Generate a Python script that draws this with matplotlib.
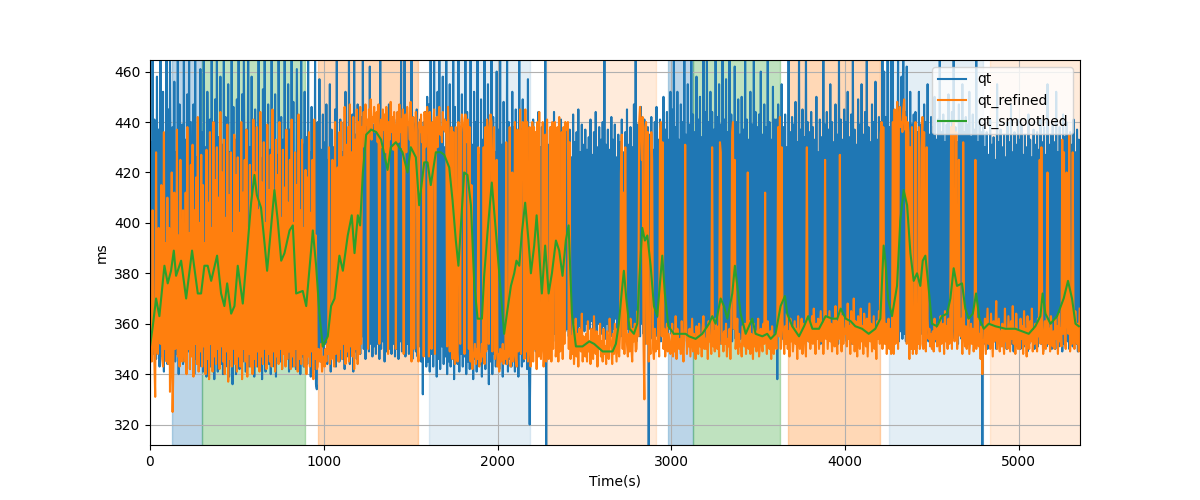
import matplotlib
matplotlib.use("Agg")
import matplotlib.pyplot as plt
import numpy as np

# sample step of the raw series (s)
STEP = 5

# raw QT (ms), one row = 100 s
qt = [
    345, 432, 352, 470, 348, 441, 398, 346, 458, 350, 437, 343, 468, 412, 347, 452, 341, 429, 349, 466,
    344, 445, 346, 470, 405, 342, 438, 350, 456, 345, 428, 348, 472, 340, 447, 420, 352, 439, 344, 466,
    347, 433, 343, 451, 349, 468, 342, 440, 395, 355, 447, 340, 470, 346, 426, 351, 438, 343, 461, 348,
    436, 341, 469, 350, 430, 339, 452, 410, 346, 441, 343, 470, 350, 427, 338, 449, 345, 466, 341, 434,
    349, 458, 344, 431, 340, 470, 347, 442, 400, 343, 455, 339, 428, 351, 468, 336, 446, 345, 433, 340,
    449, 355, 470, 342, 428, 348, 451, 345, 466, 405, 341, 437, 350, 472, 343, 430, 347, 458, 352, 425,
    339, 445, 346, 432, 343, 470, 350, 426, 410, 338, 453, 345, 468, 341, 436, 349, 447, 344, 429, 340,
    466, 347, 438, 343, 451, 339, 427, 351, 470, 415, 345, 442, 342, 433, 348, 468, 344, 430, 350, 455,
    341, 437, 346, 470, 343, 448, 349, 426, 342, 461, 405, 351, 439, 340, 472, 347, 431, 343, 452, 348,
    434, 344, 468, 350, 428, 339, 446, 347, 435, 342, 466, 336, 334, 440, 348, 457, 345, 429, 351, 443,
    346, 432, 352, 447, 344, 425, 349, 455, 341, 437, 356, 430, 347, 445, 343, 468, 350, 433, 345, 441,
    352, 428, 346, 440, 342, 452, 350, 431, 347, 466, 344, 429, 353, 443, 341, 470, 349, 435, 346, 447,
    352, 436, 348, 442, 355, 466, 350, 438, 346, 440, 353, 437, 349, 462, 352, 441, 347, 439, 351, 443,
    348, 437, 352, 444, 346, 468, 350, 440, 353, 440, 345, 442, 349, 438, 351, 447, 350, 436, 348, 440,
    352, 441, 347, 438, 350, 444, 346, 439, 353, 466, 349, 437, 351, 470, 347, 443, 352, 440, 348, 436,
    350, 468, 346, 442, 353, 439, 349, 445, 347, 438, 351, 441, 345, 437, 332, 440, 348, 444, 343, 450,
    345, 447, 341, 470, 348, 433, 343, 466, 350, 428, 339, 452, 346, 470, 342, 437, 351, 458, 344, 430,
    347, 468, 340, 441, 345, 455, 343, 429, 349, 470, 338, 446, 346, 432, 344, 466, 341, 438, 348, 451,
    343, 429, 347, 470, 340, 444, 345, 436, 342, 468, 349, 431, 338, 452, 346, 440, 341, 470, 348, 427,
    344, 449, 339, 433, 347, 468, 342, 438, 350, 455, 336, 430, 345, 466, 340, 442, 348, 428, 343, 460,
    345, 437, 342, 466, 350, 431, 339, 448, 347, 429, 344, 470, 341, 440, 346, 433, 343, 452, 349, 438,
    341, 445, 346, 431, 339, 466, 348, 437, 343, 449, 345, 428, 350, 440, 342, 457, 347, 320, 352, 433,
    347, 441, 355, 429, 349, 436, 352, 444, 356, 430, 350, 438, 353, 426, 348, 470, 300, 437, 356, 431,
    352, 438, 358, 430, 353, 444, 356, 427, 360, 436, 355, 431, 358, 441, 354, 428, 361, 434, 357, 439,
    358, 430, 355, 437, 360, 426, 354, 443, 357, 432, 361, 436, 355, 445, 359, 428, 356, 439, 362, 431,
    357, 437, 360, 429, 355, 434, 358, 441, 361, 427, 354, 436, 359, 444, 356, 430, 360, 438, 357, 433,
    356, 440, 359, 468, 354, 431, 360, 437, 357, 429, 361, 442, 355, 433, 358, 439, 362, 426, 356, 435,
    359, 432, 355, 441, 360, 428, 357, 436, 353, 445, 358, 431, 356, 438, 361, 430, 354, 447, 359, 466,
    353, 439, 358, 432, 355, 446, 360, 435, 356, 441, 352, 430, 357, 438, 300, 435, 354, 442, 359, 429,
    352, 440, 358, 446, 355, 433, 357, 441, 353, 431, 359, 450, 354, 437, 356, 444, 352, 433, 358, 452,
    356, 445, 353, 468, 358, 438, 355, 452, 357, 433, 352, 447, 359, 440, 354, 466, 357, 435, 353, 455,
    355, 439, 358, 470, 352, 443, 356, 436, 354, 458, 357, 441, 353, 450, 355, 434, 358, 468, 352, 444,
    355, 468, 352, 440, 357, 452, 354, 444, 358, 437, 353, 470, 356, 442, 355, 455, 352, 439, 358, 466,
    354, 441, 356, 457, 352, 436, 357, 468, 355, 443, 353, 438, 358, 462, 354, 440, 356, 449, 352, 435,
    354, 450, 357, 437, 352, 466, 356, 441, 353, 433, 358, 452, 355, 439, 351, 470, 356, 444, 354, 438,
    357, 443, 353, 460, 356, 435, 354, 447, 358, 438, 352, 468, 355, 440, 357, 433, 353, 454, 356, 441,
    353, 441, 338, 447, 356, 433, 358, 455, 354, 438, 357, 443, 352, 430, 356, 466, 355, 436, 358, 442,
    354, 439, 357, 448, 353, 432, 356, 468, 355, 437, 352, 445, 357, 434, 354, 470, 356, 440, 353, 436,
    355, 444, 358, 438, 353, 433, 356, 450, 354, 428, 357, 441, 352, 434, 356, 468, 355, 439, 358, 444,
    354, 437, 357, 455, 353, 440, 356, 432, 355, 447, 358, 435, 352, 466, 356, 441, 354, 433, 357, 445,
    356, 440, 353, 452, 357, 434, 355, 443, 352, 466, 356, 437, 354, 431, 358, 449, 353, 439, 356, 455,
    354, 435, 357, 444, 353, 470, 356, 438, 355, 432, 358, 447, 352, 440, 356, 456, 354, 433, 357, 442,
    354, 440, 356, 470, 352, 460, 355, 442, 357, 472, 353, 438, 356, 468, 354, 466, 352, 441, 357, 437,
    355, 470, 353, 440, 357, 458, 354, 468, 356, 444, 353, 462, 357, 437, 354, 452, 352, 439, 356, 443,
    355, 444, 353, 436, 358, 452, 354, 439, 356, 433, 352, 447, 357, 440, 355, 455, 353, 435, 356, 442,
    354, 438, 357, 450, 353, 433, 356, 441, 352, 466, 355, 436, 358, 443, 354, 432, 356, 439, 353, 451,
    356, 435, 353, 444, 357, 466, 354, 438, 358, 432, 352, 447, 356, 440, 354, 455, 357, 436, 353, 442,
    355, 439, 352, 452, 356, 434, 354, 443, 357, 437, 353, 466, 355, 432, 356, 441, 352, 436, 300, 438,
    352, 430, 355, 436, 350, 427, 354, 441, 351, 431, 356, 434, 353, 425, 350, 455, 354, 432, 352, 437,
    355, 430, 351, 435, 354, 426, 350, 440, 353, 432, 356, 447, 352, 428, 349, 436, 354, 431, 351, 441,
    353, 433, 350, 439, 354, 427, 351, 435, 355, 430, 349, 443, 352, 433, 356, 426, 353, 437, 350, 431,
    354, 436, 351, 429, 355, 441, 352, 432, 349, 438, 354, 427, 351, 455, 353, 431, 356, 435, 350, 439,
    353, 432, 350, 452, 354, 428, 351, 438, 355, 430, 349, 443, 352, 434, 356, 440, 353, 428, 350, 436,
    354, 431, 351, 441, 355, 428, 352, 437, 349, 433, 355,
]

# refined QT (ms), one row = 100 s
qt_refined = [
    350, 362, 345, 405, 360, 345, 331, 428, 352, 348, 398, 355, 352, 415, 346, 343, 436, 350, 392, 345,
    410, 344, 398, 333, 346, 420, 325, 345, 412, 350, 352, 437, 347, 395, 343, 425, 348, 345, 405, 352,
    345, 412, 340, 438, 350, 396, 342, 423, 347, 431, 339, 405, 352, 418, 344, 442, 341, 400, 349, 427,
    343, 415, 351, 392, 340, 429, 346, 408, 338, 436, 352, 398, 341, 440, 347, 417, 344, 430, 350, 410,
    342, 444, 351, 420, 345, 433, 340, 402, 349, 439, 337, 411, 346, 428, 343, 396, 350, 435, 344, 419,
    341, 426, 347, 404, 343, 440, 338, 412, 350, 425, 345, 437, 339, 398, 348, 423, 343, 409, 340, 441,
    346, 420, 343, 438, 349, 405, 341, 444, 347, 416, 344, 432, 350, 400, 342, 439, 348, 413, 345, 427,
    343, 445, 349, 410, 341, 433, 347, 419, 344, 440, 350, 402, 342, 429, 348, 414, 343, 437, 346, 408,
    349, 425, 342, 441, 347, 400, 343, 428, 350, 415, 341, 443, 346, 405, 344, 433, 348, 398, 343, 421,
    340, 418, 347, 436, 343, 404, 349, 425, 338, 441, 346, 395, 342, 343, 350, 348, 345, 352, 341, 345,
    347, 343, 350, 345, 352, 348, 430, 344, 349, 346, 425, 350, 343, 440, 348, 352, 422, 345, 436, 350,
    440, 346, 426, 352, 446, 344, 431, 349, 438, 345, 447, 351, 428, 347, 442, 342, 433, 350, 445, 344,
    440, 348, 446, 352, 438, 436, 444, 430, 447, 439, 441, 350, 445, 438, 449, 433, 442, 440, 446, 436,
    438, 444, 432, 447, 352, 436, 441, 430, 445, 437, 443, 428, 446, 439, 348, 440, 433, 448, 436, 442,
    429, 444, 437, 350, 438, 444, 432, 447, 436, 441, 430, 445, 348, 437, 443, 428, 446, 439, 440, 433,
    448, 345, 436, 442, 350, 429, 444, 437, 352, 345, 440, 436, 443, 432, 438, 347, 444, 430, 439, 446,
    438, 347, 444, 432, 350, 440, 436, 445, 348, 437, 442, 430, 441, 446, 435, 438, 432, 444, 437, 441,
    436, 440, 351, 446, 435, 349, 420, 438, 346, 436, 352, 344, 438, 350, 345, 440, 436, 352, 438, 443,
    440, 436, 348, 443, 432, 437, 441, 350, 438, 345, 415, 342, 348, 347, 352, 344, 350, 346, 430, 343,
    348, 345, 352, 347, 430, 344, 438, 349, 441, 436, 352, 437, 443, 440, 349, 420, 438, 346, 350, 425,
    343, 348, 341, 350, 345, 347, 352, 344, 349, 346, 432, 344, 350, 347, 438, 343, 349, 420, 345, 351,
    440, 347, 343, 437, 349, 350, 445, 348, 432, 440, 437, 346, 445, 349, 440, 345, 350, 438, 343, 348,
    440, 345, 438, 350, 436, 342, 440, 347, 444, 348, 346, 352, 440, 343, 352, 435, 345, 441, 349, 346,
    352, 438, 345, 440, 350, 436, 440, 347, 352, 438, 345, 442, 349, 350, 436, 346, 438, 352, 440, 437,
    437, 440, 350, 432, 346, 355, 348, 360, 344, 352, 362, 347, 356, 343, 358, 351, 349, 364, 345, 355,
    350, 347, 356, 345, 361, 349, 353, 344, 358, 350, 346, 363, 352, 348, 357, 343, 355, 350, 360, 347,
    353, 345, 358, 348, 351, 344, 357, 349, 346, 362, 355, 350, 344, 356, 348, 360, 352, 345, 358, 351,
    347, 356, 420, 435, 350, 412, 348, 430, 360, 352, 347, 356, 349, 362, 351, 345, 358, 353, 360, 349,
    350, 365, 355, 440, 446, 435, 425, 442, 352, 330, 438, 440, 352, 436, 345, 360, 348, 436, 425, 350,
    346, 358, 349, 353, 350, 362, 347, 436, 440, 355, 432, 350, 358, 347, 354, 360, 349, 356, 352, 348,
    352, 360, 347, 355, 349, 363, 346, 358, 352, 350, 354, 348, 361, 352, 345, 357, 431, 362, 348, 355,
    351, 358, 347, 355, 362, 349, 356, 352, 346, 359, 353, 348, 360, 351, 355, 347, 358, 363, 350, 354,
    350, 358, 346, 361, 353, 355, 348, 430, 351, 357, 349, 362, 354, 350, 359, 347, 432, 428, 352, 356,
    349, 357, 352, 360, 347, 354, 351, 358, 346, 361, 436, 440, 358, 425, 350, 355, 362, 348, 356, 351,
    352, 347, 359, 355, 351, 360, 348, 356, 420, 350, 361, 348, 356, 353, 346, 360, 351, 357, 349, 354,
    362, 347, 351, 358, 353, 349, 360, 352, 412, 355, 348, 361, 354, 350, 357, 346, 359, 352, 348, 355,
    356, 350, 361, 438, 355, 442, 350, 430, 361, 355, 348, 359, 352, 364, 350, 357, 347, 362, 353, 358,
    349, 355, 361, 352, 358, 346, 363, 354, 350, 357, 362, 348, 355, 360, 352, 347, 430, 356, 353, 361,
    350, 357, 363, 352, 366, 355, 348, 360, 354, 362, 350, 358, 365, 353, 360, 348, 356, 425, 354, 362,
    350, 358, 365, 353, 360, 349, 356, 362, 351, 367, 355, 348, 361, 354, 427, 356, 349, 363, 352, 358,
    356, 362, 351, 368, 354, 359, 348, 365, 357, 352, 370, 349, 361, 355, 347, 363, 358, 350, 366, 353,
    359, 348, 364, 355, 351, 362, 347, 357, 368, 353, 360, 349, 356, 363, 350, 358, 346, 361, 354, 365,
    352, 435, 440, 350, 438, 365, 352, 360, 348, 356, 362, 350, 358, 348, 355, 440, 348, 445, 352, 437,
    448, 350, 442, 446, 438, 440, 436, 445, 449, 437, 442, 352, 440, 436, 346, 430, 350, 438, 348, 355,
    350, 440, 348, 355, 352, 438, 350, 352, 430, 442, 350, 436, 357, 349, 430, 362, 354, 358, 351, 356,
    350, 357, 349, 362, 354, 358, 351, 360, 356, 349, 363, 352, 358, 360, 348, 365, 353, 359, 350, 362,
    352, 358, 438, 350, 430, 440, 353, 360, 436, 350, 358, 425, 357, 355, 362, 348, 432, 356, 351, 359,
    350, 357, 362, 348, 354, 360, 352, 358, 349, 355, 425, 350, 358, 362, 351, 356, 346, 359, 340, 352,
    354, 362, 348, 357, 366, 352, 359, 350, 364, 355, 347, 361, 353, 358, 369, 350, 356, 362, 349, 357,
    351, 360, 355, 348, 366, 353, 358, 350, 363, 356, 349, 361, 354, 367, 352, 358, 348, 364, 355, 350,
    357, 350, 362, 354, 359, 348, 365, 352, 358, 347, 363, 355, 350, 361, 353, 366, 349, 357, 352, 360,
    354, 349, 362, 355, 425, 352, 430, 358, 348, 355, 361, 350, 357, 420, 352, 358, 349, 363, 355, 351,
    357, 350, 362, 354, 359, 348, 364, 353, 358, 351, 433, 356, 428, 353, 350, 420, 361, 356, 435, 349,
    363, 352, 428, 358, 350, 365, 356, 352, 360, 349, 366,
]

# smoothed QT read at its own time points (s)
smooth_t = [
    0, 16, 35, 54, 83, 102, 121, 137, 150, 179, 208, 242, 275, 294, 313, 332, 352, 386, 409, 428,
    444, 467, 486, 505, 534, 563, 582, 601, 615, 639, 659, 674, 687, 716, 735, 755, 774, 803, 822, 841,
    879, 899, 937, 956, 975, 994, 1023, 1042, 1062, 1090, 1110, 1138, 1161, 1177, 1196, 1209, 1225, 1244, 1273, 1302,
    1330, 1367, 1386, 1415, 1453, 1482, 1501, 1530, 1549, 1578, 1597, 1616, 1645, 1674, 1693, 1722, 1741, 1760, 1775, 1789,
    1808, 1827, 1847, 1866, 1885, 1910, 1923, 1942, 1967, 1990, 2019, 2038, 2058, 2077, 2096, 2109, 2125, 2140, 2159, 2178,
    2192, 2211, 2225, 2240, 2255, 2274, 2294, 2313, 2336, 2355, 2374, 2393, 2409, 2428, 2451, 2489, 2528, 2556, 2605, 2662,
    2681, 2698, 2714, 2727, 2741, 2760, 2785, 2804, 2817, 2833, 2848, 2862, 2881, 2900, 2919, 2938, 2948, 2963, 2983, 3015,
    3054, 3082, 3102, 3140, 3178, 3217, 3236, 3255, 3284, 3303, 3322, 3351, 3366, 3380, 3399, 3428, 3447, 3466, 3485, 3524,
    3552, 3572, 3600, 3629, 3654, 3667, 3696, 3735, 3764, 3788, 3812, 3850, 3888, 3927, 3955, 3975, 4004, 4032, 4059, 4098,
    4136, 4174, 4203, 4222, 4232, 4247, 4270, 4299, 4318, 4337, 4357, 4376, 4395, 4414, 4433, 4447, 4462, 4477, 4500, 4529,
    4558, 4587, 4606, 4625, 4644, 4673, 4692, 4711, 4735, 4754, 4773, 4798, 4827, 4865, 4923, 4980, 5018, 5057, 5095, 5124,
    5137, 5153, 5182, 5220, 5258, 5283, 5306, 5326, 5345,
]
qt_smoothed = [
    351, 359, 370, 363, 383, 376, 381, 389, 379, 385, 370, 389, 372, 372, 383, 383, 377, 387, 372, 367,
    376, 364, 367, 383, 368, 392, 408, 419, 411, 406, 392, 381, 391, 413, 401, 385, 388, 397, 399, 372,
    373, 367, 397, 383, 364, 351, 355, 367, 370, 387, 381, 395, 403, 388, 403, 399, 420, 435, 437, 436,
    433, 421, 430, 432, 428, 420, 430, 426, 407, 424, 424, 415, 428, 428, 427, 422, 409, 393, 383, 399,
    420, 419, 407, 376, 362, 362, 379, 396, 416, 397, 372, 356, 366, 375, 380, 385, 383, 396, 408, 393,
    380, 391, 403, 388, 372, 391, 372, 380, 393, 389, 379, 393, 399, 364, 351, 351, 353, 352, 349, 349,
    352, 360, 372, 381, 370, 358, 356, 360, 379, 398, 393, 395, 383, 367, 363, 379, 387, 372, 359, 356,
    356, 356, 355, 354, 356, 360, 363, 360, 370, 367, 362, 372, 383, 375, 364, 356, 359, 362, 356, 355,
    356, 354, 356, 367, 371, 364, 359, 355, 359, 363, 358, 358, 363, 362, 362, 366, 362, 361, 359, 358,
    356, 358, 362, 391, 385, 370, 363, 375, 401, 413, 407, 388, 377, 380, 375, 385, 387, 377, 360, 359,
    363, 364, 370, 382, 375, 376, 366, 362, 364, 372, 362, 358, 360, 359, 358, 358, 357, 356, 359, 363,
    372, 364, 360, 363, 370, 377, 370, 360, 359,
]

# labelled segments: (start, end, colour, alpha)
span_start = [129, 298, 966, 1603, 2284, 2979, 3127, 3670, 4251, 4832]
span_end = [298, 893, 1543, 2184, 2910, 3127, 3623, 4203, 4794, 5352]
span_color = ["tab:blue", "tab:green", "tab:orange", "tab:blue", "tab:orange",
              "tab:blue", "tab:green", "tab:orange", "tab:blue", "tab:orange"]
span_alpha = [0.3, 0.3, 0.3, 0.12, 0.15, 0.3, 0.3, 0.3, 0.12, 0.15]

t_qt = np.arange(len(qt)) * STEP
t_ref = np.arange(len(qt_refined)) * STEP

fig, ax = plt.subplots(figsize=(12, 5), dpi=100)
for s, e, c, a in zip(span_start, span_end, span_color, span_alpha):
    ax.axvspan(s, e, color=c, alpha=a)

ax.plot(t_qt, qt, label="qt")
ax.plot(t_ref, qt_refined, label="qt_refined")
ax.plot(smooth_t, qt_smoothed, label="qt_smoothed")

ax.set_xlim(0, 5352)
ax.set_ylim(311.9, 464.6)
ax.set_xlabel("Time(s)")
ax.set_ylabel("ms")
ax.grid(True)
ax.legend(loc="upper right")

fig.savefig("out.png", dpi=100)
